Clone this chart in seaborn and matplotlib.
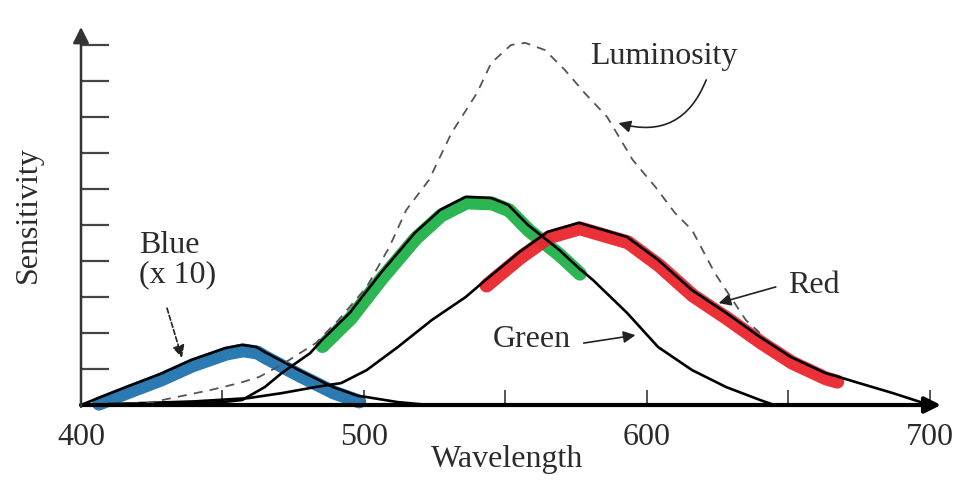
import numpy as np
import pandas as pd
import matplotlib
matplotlib.use("Agg")
import matplotlib.pyplot as plt
import matplotlib.transforms as mtransforms
import seaborn as sns

# wavelength (nm) / relative sensitivity
lum_wl = [400, 424, 446, 456, 463, 472, 483, 491, 501, 509, 515, 523, 531, 540, 545,
          552, 557, 564, 571, 578, 586, 595, 603, 610, 616, 624, 635, 640]
lum_val = [0, 0.06, 0.42, 0.61, 0.78, 1.17, 1.72, 2.36, 3.28, 4.39, 5.42, 6.25, 7.56, 8.67, 9.5,
           10.0, 10.06, 9.86, 9.31, 8.67, 8.0, 6.81, 6.06, 5.33, 4.86, 3.67, 2.36, 2.0]

blue_wl = [400, 406, 416, 428, 439, 451, 457, 462, 465, 477, 489, 498, 501, 512, 523]
blue_val = [0, 0.19, 0.5, 0.86, 1.25, 1.58, 1.67, 1.61, 1.47, 0.97, 0.5, 0.25, 0.22, 0.08, 0]

green_wl = [400, 430, 450, 457, 465, 471, 481, 485, 495, 506, 518, 527, 536, 545, 551,
            558, 569, 576, 581, 593, 604, 616, 628, 640, 645]
green_val = [0, 0.03, 0.08, 0.14, 0.5, 0.89, 1.44, 1.79, 2.56, 3.67, 4.78, 5.42, 5.78, 5.75, 5.56,
             5.0, 4.31, 3.8, 3.47, 2.56, 1.61, 0.97, 0.5, 0.14, 0]

red_wl = [400, 440, 459, 471, 483, 492, 501, 512, 524, 536, 543, 555, 565, 576, 593,
          604, 616, 628, 640, 651, 663, 667, 675, 687, 700]
red_val = [0, 0.1, 0.19, 0.33, 0.5, 0.61, 0.97, 1.61, 2.36, 3.0, 3.47, 4.25, 4.81, 5.06, 4.67,
           4.03, 3.19, 2.56, 1.89, 1.33, 0.89, 0.8, 0.61, 0.33, 0]

# wavelength ranges of the coloured highlight bands
blue_band = (406, 499)
green_band = (485, 577)
red_band = (543, 668)

xtick_labels = [400, 500, 600, 700]
xtick_minor = [450, 550, 650]
ytick_marks = list(range(1, 11))

sns.set_theme(style="white")
plt.rcParams["font.family"] = ["Liberation Serif", "DejaVu Serif"]
txt_color = "#2b2b2b"

fig = plt.figure(figsize=(9.71, 4.82), dpi=100)
ax = fig.add_axes([81 / 971, 77 / 482, 860 / 971, 378 / 482])
ax.set_xlim(400, 704)
ax.set_ylim(0, 10.5)

# highlight bands sit a few pixels under the black curves
shift = ax.transData + mtransforms.ScaledTranslation(0.01, -0.055, fig.dpi_scale_trans)

def band(wl, val, rng, color):
    df = pd.DataFrame({"wl": wl, "val": val})
    df = df[(df.wl >= rng[0]) & (df.wl <= rng[1])]
    sns.lineplot(data=df, x="wl", y="val", color=color, lw=10, alpha=0.95,
                 solid_capstyle="round", solid_joinstyle="round", transform=shift,
                 ax=ax, zorder=2, clip_on=False)

band(blue_wl, blue_val, blue_band, "#1f73ad")
band(green_wl, green_val, green_band, "#1fb14a")
band(red_wl, red_val, red_band, "#e8262c")

for wl, val in [(blue_wl, blue_val), (green_wl, green_val), (red_wl, red_val)]:
    sns.lineplot(x=wl, y=val, color="black", lw=1.9, ax=ax, zorder=3, clip_on=False,
                 solid_joinstyle="round")

sns.lineplot(x=lum_wl, y=lum_val, color="#555555", lw=1.3, linestyle=(0, (5, 4)),
             ax=ax, zorder=4, clip_on=False)

ax.set_xlim(400, 704)
ax.set_ylim(0, 10.5)
for s in ax.spines.values():
    s.set_visible(False)

ax.set_xticks(xtick_labels)
ax.set_xticks(xtick_minor, minor=True)
ax.set_yticks(ytick_marks)
ax.set_yticklabels([])
ax.tick_params(axis="x", which="both", direction="in", length=11, width=1.4,
               color="#555555", labelsize=23, labelcolor=txt_color, pad=13, bottom=True)
ax.tick_params(axis="y", direction="in", length=20, width=1.6, color="#444444", left=True)

ax.set_xlabel("Wavelength", fontsize=23, color=txt_color)
ax.xaxis.set_label_coords((507 - 81) / 860, (405 - 445) / 378)
ax.set_ylabel("Sensitivity", fontsize=23, color=txt_color)
ax.yaxis.set_label_coords((43 - 81) / 860, (405 - 215) / 378)

# axis arrows
ax.annotate("", xy=(1.0, 0), xytext=(0, 0), xycoords="axes fraction",
            arrowprops=dict(arrowstyle="-|>", lw=3, color="black", mutation_scale=24,
                            shrinkA=0, shrinkB=0), zorder=5)
ax.annotate("", xy=(0, 1.0), xytext=(0, -0.005), xycoords="axes fraction",
            arrowprops=dict(arrowstyle="-|>", lw=1.8, color="#333333", mutation_scale=24,
                            shrinkA=0, shrinkB=0), zorder=5)

# curve labels with pointers
arrow_kw = dict(arrowstyle="-|>", lw=1.2, color="#222222", mutation_scale=18, shrinkA=0, shrinkB=0)
ax.text(606, 9.67, "Luminosity", fontsize=23, color=txt_color, ha="center", va="center")
ax.annotate("", xy=(590, 7.83), xytext=(621, 9.03),
            arrowprops=dict(connectionstyle="arc3,rad=-0.45", **arrow_kw))
ax.text(659, 3.33, "Red", fontsize=23, color=txt_color, ha="center", va="center")
ax.annotate("", xy=(625.4, 2.83), xytext=(645.6, 3.28), arrowprops=arrow_kw)
ax.text(559.4, 1.81, "Green", fontsize=23, color=txt_color, ha="center", va="center")
ax.annotate("", xy=(596, 1.94), xytext=(577.7, 1.72), arrowprops=arrow_kw)
ax.text(420.5, 4.03, "Blue\n(x 10)", fontsize=23, color=txt_color, ha="left", va="center",
        linespacing=1.0)
ax.annotate("", xy=(435.7, 1.31), xytext=(430.4, 2.69),
            arrowprops=dict(linestyle=(0, (3, 1.5)), **arrow_kw))

fig.savefig("out.png", dpi=100)
